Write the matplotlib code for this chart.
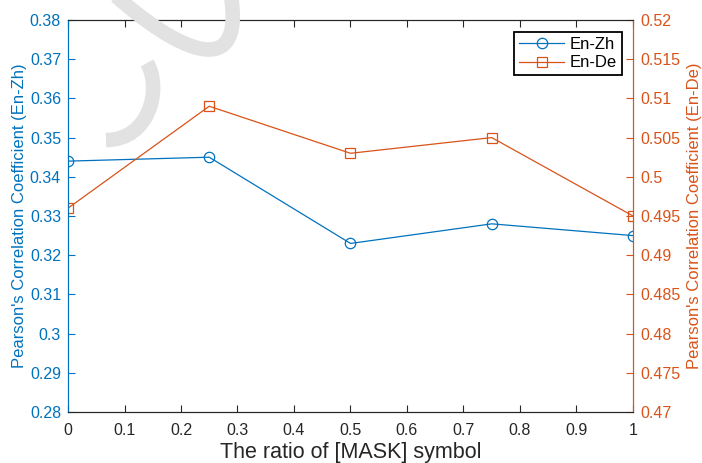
import matplotlib.pyplot as plt
from matplotlib.patches import PathPatch
from matplotlib.path import Path
from matplotlib.lines import Line2D

plt.rcParams['font.family'] = ['Liberation Sans', 'DejaVu Sans']

ratios = [0, 0.25, 0.5, 0.75, 1.0]
en_zh = [0.344, 0.345, 0.323, 0.328, 0.325]
en_de = [0.496, 0.509, 0.503, 0.505, 0.495]
left_ticks = [0.28, 0.29, 0.30, 0.31, 0.32, 0.33, 0.34, 0.35, 0.36, 0.37, 0.38]
right_ticks = [0.47, 0.475, 0.48, 0.485, 0.49, 0.495, 0.50, 0.505, 0.51, 0.515, 0.52]
x_ticks = [0, 0.1, 0.2, 0.3, 0.4, 0.5, 0.6, 0.7, 0.8, 0.9, 1.0]

blue = '#0072BD'
orange = '#D95319'
dark = '#262626'

def fmt(v):
    return ('%.3f' % v).rstrip('0').rstrip('.')

W, H = 702, 463
fig = plt.figure(figsize=(W / 100, H / 100), dpi=100)
ax = fig.add_axes([68 / W, 1 - 412 / H, (633 - 68) / W, (412 - 20) / H])
ax2 = ax.twinx()
ax.patch.set_alpha(0)
ax2.patch.set_alpha(0)

# faint watermark strokes behind the plot (pixel coords, y from top)
def stroke(pts):
    verts = [(x, H - y) for x, y in pts]
    p = Path(verts, [Path.MOVETO, Path.CURVE4, Path.CURVE4, Path.CURVE4])
    fig.patches.append(PathPatch(p, transform=None, fill=False, ec='#e2e2e2',
                                 lw=10.5, capstyle='butt', zorder=0))

stroke([(116, -4), (172, 46), (245, 86), (231, -4)])
stroke([(147, 63), (162, 88), (150, 140), (106, 140)])

ax.plot(ratios, en_zh, color=blue, lw=0.9, marker='o', ms=7.5, mfc='none',
        mec=blue, mew=0.9)
ax2.plot(ratios, en_de, color=orange, lw=0.9, marker='s', ms=6.5, mfc='none',
         mec=orange, mew=0.9)

ax.set_xlim(0, 1)
ax.set_ylim(0.28, 0.38)
ax2.set_ylim(0.47, 0.52)
ax.set_xticks(x_ticks)
ax.set_xticklabels([fmt(v) for v in x_ticks])
ax.set_yticks(left_ticks)
ax.set_yticklabels([fmt(v) for v in left_ticks])
ax2.set_yticks(right_ticks)
ax2.set_yticklabels([fmt(v) for v in right_ticks])

for a in (ax, ax2):
    for s in a.spines.values():
        s.set_linewidth(0.8)
    a.spines['top'].set_color(dark)
    a.spines['bottom'].set_color(dark)
    a.spines['left'].set_color(blue)
    a.spines['right'].set_color(orange)

ax.tick_params(axis='x', direction='in', length=5, width=0.8, colors=dark,
               labelsize=11.5, top=True, pad=8)
ax.tick_params(axis='y', direction='in', length=5, width=0.8, colors=blue,
               labelsize=11.5, pad=5)
ax2.tick_params(axis='y', direction='in', length=5, width=0.8, colors=orange,
                labelsize=11.5, pad=5)

ax.set_xlabel('The ratio of [MASK] symbol', fontsize=15.5, color=dark, labelpad=3)
ax.set_ylabel("Pearson's Correlation Coefficient (En-Zh)", fontsize=12,
              color=blue, labelpad=2)
ax2.set_ylabel("Pearson's Correlation Coefficient (En-De)", fontsize=12,
               color=orange, labelpad=5)

handles = [Line2D([], [], color=blue, lw=0.9, marker='o', ms=7.5, mfc='none', mew=0.9),
           Line2D([], [], color=orange, lw=0.9, marker='s', ms=6.5, mfc='none', mew=0.9)]
leg = ax2.legend(handles, ['En-Zh', 'En-De'], loc='upper right',
                 bbox_to_anchor=(0.9805, 0.969), fontsize=12, fancybox=False,
                 framealpha=1, edgecolor='black', borderpad=0.3,
                 handlelength=2.7, handletextpad=0.35, labelspacing=0.2,
                 borderaxespad=0)
leg.get_frame().set_linewidth(1.3)

fig.savefig('out.png', dpi=100)
